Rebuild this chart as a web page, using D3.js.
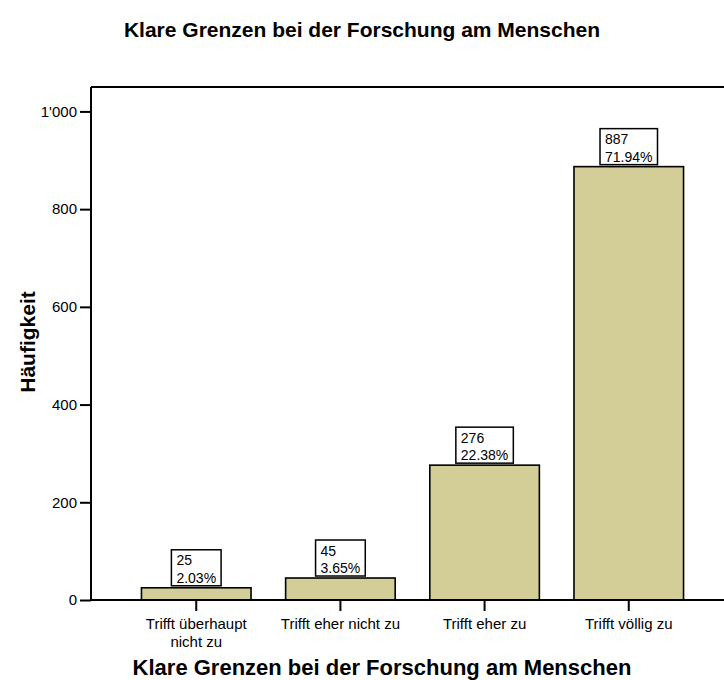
<!DOCTYPE html>
<html>
<head>
<meta charset="utf-8">
<script src="https://cdn.jsdelivr.net/npm/d3@7"></script>
<style>
  body { margin: 0; background: #fff; }
  svg text { font-family: "Liberation Sans", Arial, sans-serif; fill: #000; }
</style>
</head>
<body>
<svg id="chart" width="724" height="680"></svg>
<script>
const categories = [['Trifft überhaupt', 'nicht zu'], ['Trifft eher nicht zu'], ['Trifft eher zu'], ['Trifft völlig zu']];
const counts = [25, 45, 276, 887];
const percents = ['2.03%', '3.65%', '22.38%', '71.94%'];
const yTicks = [0, 200, 400, 600, 800, 1000];

const W = 724, H = 680;
const plotLeft = 91, plotTop = 87, plotBottom = 600;

const svg = d3.select('#chart');

const x = d3.scaleBand()
    .domain(d3.range(counts.length))
    .range([plotLeft, 734])
    .paddingInner(0.24)
    .paddingOuter(0.35);

const y = d3.scaleLinear()
    .domain([0, 1050])
    .range([plotBottom, plotTop]);

// cadre du haut
svg.append('line').attr('x1', plotLeft).attr('x2', W).attr('y1', plotTop).attr('y2', plotTop)
    .attr('stroke', '#000').attr('stroke-width', 2);

// Axe Y
const yAxis = svg.append('g')
    .attr('transform', `translate(${plotLeft},0)`)
    .call(d3.axisLeft(y).tickValues(yTicks).tickSize(11).tickPadding(3)
        .tickFormat(d => d3.format(',')(d).replace(',', "'")));
yAxis.select('.domain').attr('stroke-width', 2).attr('d', `M0,${plotTop}V${plotBottom}`);
yAxis.selectAll('.tick line').attr('stroke-width', 2);
yAxis.selectAll('text').style('font-size', '15px');

// Barres
svg.selectAll('rect.bar')
    .data(counts)
    .enter()
    .append('rect')
    .attr('class', 'bar')
    .attr('x', (d, i) => x(i))
    .attr('y', d => y(d))
    .attr('width', x.bandwidth())
    .attr('height', d => y(0) - y(d))
    .attr('fill', '#d3ce97')
    .attr('stroke', '#000')
    .attr('stroke-width', 1.6);

// Axe X
const xAxis = svg.append('g')
    .attr('transform', `translate(0,${plotBottom})`)
    .call(d3.axisBottom(x).tickSize(11).tickFormat(''));
xAxis.select('.domain').attr('stroke-width', 2).attr('d', `M${plotLeft},0H${W}`);
xAxis.selectAll('.tick line').attr('stroke-width', 2);

xAxis.selectAll('.tick')
    .append('text')
    .attr('text-anchor', 'middle')
    .style('font-size', '15px')
    .each(function (d) {
        categories[d].forEach((line, k) => {
            d3.select(this).append('tspan')
                .attr('x', 0)
                .attr('y', 29 + k * 18)
                .text(line);
        });
    });

// Etiquettes
const labels = svg.selectAll('g.lab')
    .data(counts)
    .enter()
    .append('g')
    .attr('class', 'lab');

labels.each(function (d, i) {
    const g = d3.select(this);
    const cx = x(i) + x.bandwidth() / 2;
    const boxBottom = y(d) - 2;
    const boxH = 36;
    const rect = g.append('rect')
        .attr('fill', '#fff')
        .attr('stroke', '#000')
        .attr('stroke-width', 1.5);
    const t = g.append('text').style('font-size', '14px');
    t.append('tspan').attr('x', 0).attr('y', boxBottom - boxH + 15.5).text(d);
    t.append('tspan').attr('x', 0).attr('y', boxBottom - boxH + 33).text(percents[i]);
    const w = t.node().getBBox().width + 10;
    t.selectAll('tspan').attr('x', cx - w / 2 + 5);
    rect.attr('x', cx - w / 2).attr('y', boxBottom - boxH).attr('width', w).attr('height', boxH);
});

// Texte
svg.append('text')
    .attr('x', 362)
    .attr('y', 37)
    .attr('text-anchor', 'middle')
    .style('font-size', '21px')
    .style('font-weight', 'bold')
    .text('Klare Grenzen bei der Forschung am Menschen');

svg.append('text')
    .attr('x', 382)
    .attr('y', 675)
    .attr('text-anchor', 'middle')
    .style('font-size', '22px')
    .style('font-weight', 'bold')
    .text('Klare Grenzen bei der Forschung am Menschen');

svg.append('text')
    .attr('transform', 'translate(35,342) rotate(-90)')
    .attr('text-anchor', 'middle')
    .style('font-size', '21px')
    .style('font-weight', 'bold')
    .text('Häufigkeit');
</script>
</body>
</html>
